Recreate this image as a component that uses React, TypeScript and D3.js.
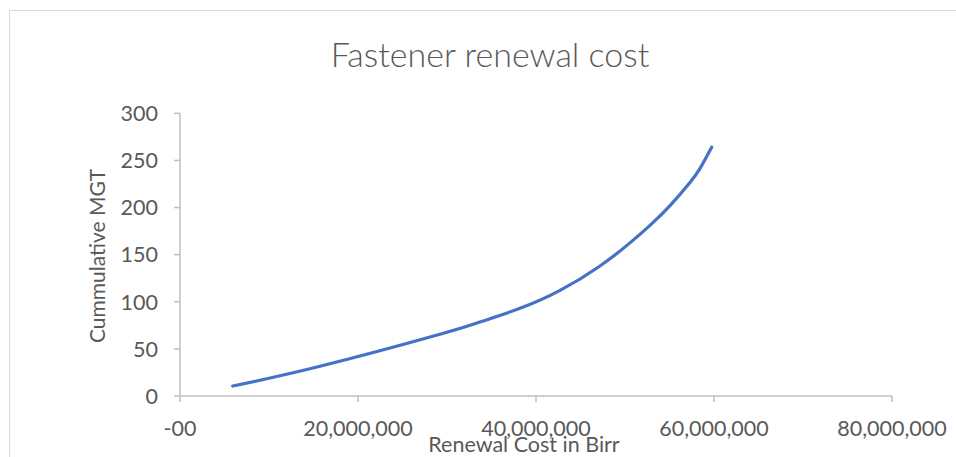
import React from "react";
import * as d3 from "d3";

const costs = [5.92e6, 15.73e6, 29.21e6, 33.71e6, 38.2e6, 42.7e6, 47.19e6, 50.56e6, 52.81e6, 55.06e6, 57.3e6, 58.43e6, 59.74e6];
const mgt = [10.6, 31.5, 65.5, 78.5, 93, 112, 138, 162.5, 181, 202, 226.5, 241.5, 264];
const xTicks = [0, 20e6, 40e6, 60e6, 80e6];
const yTicks = [0, 50, 100, 150, 200, 250, 300];

const W = 956;
const H = 457;
const FONT = "Lato, 'Open Sans', sans-serif";

export default function App() {
  const x = d3.scaleLinear().domain([0, 80e6]).range([180, 892]);
  const y = d3.scaleLinear().domain([0, 300]).range([396, 113.3]);
  const pts = costs.map((c, i) => [c, mgt[i]] as [number, number]);
  const line = d3
    .line<[number, number]>()
    .x((d) => x(d[0]))
    .y((d) => y(d[1]))
    .curve(d3.curveNatural);
  const fmt = (v: number) => (v === 0 ? "-00" : d3.format(",")(v));
  return (
    <svg width={W} height={H} style={{ position: "absolute", left: 0, top: 0 }}>
      <rect x={0} y={0} width={W} height={H} fill="#fff" />
      <rect x={9.5} y={10.5} width={W + 20} height={H + 20} fill="none" stroke="#d9d9d9" strokeWidth={1} />
      <text x={490} y={67} textAnchor="middle" fontFamily={FONT} fontSize={34} fontWeight={300} fill="#595959">
        Fastener renewal cost
      </text>
      {/* y axis */}
      <line x1={x(0)} x2={x(0)} y1={y(300)} y2={y(0)} stroke="#bfbfbf" strokeWidth={1.5} />
      {yTicks.map((t) => (
        <g key={t}>
          <line x1={x(0) - 6} x2={x(0)} y1={y(t)} y2={y(t)} stroke="#bfbfbf" strokeWidth={1.5} />
          <text x={158} y={y(t)} dy="0.36em" textAnchor="end" fontFamily={FONT} fontSize={21.5} fill="#595959">
            {t}
          </text>
        </g>
      ))}
      {/* x axis */}
      <line x1={x(0)} x2={x(80e6)} y1={y(0)} y2={y(0)} stroke="#bfbfbf" strokeWidth={1.5} />
      {xTicks.map((t) => (
        <g key={t}>
          <line x1={x(t)} x2={x(t)} y1={y(0)} y2={y(0) + 6} stroke="#bfbfbf" strokeWidth={1.5} />
          <text x={x(t)} y={436} textAnchor="middle" fontFamily={FONT} fontSize={21.5} fill="#595959">
            {fmt(t)}
          </text>
        </g>
      ))}
      <text x={524} y={452} textAnchor="middle" fontFamily={FONT} fontSize={21.5} fill="#595959">
        Renewal Cost in Birr
      </text>
      <text
        transform={`translate(105,256) rotate(-90)`}
        textAnchor="middle"
        fontFamily={FONT}
        fontSize={21}
        fill="#595959"
      >
        Cummulative MGT
      </text>
      <path d={line(pts) || ""} fill="none" stroke="#4472c4" strokeWidth={3.2} strokeLinecap="round" />
    </svg>
  );
}
